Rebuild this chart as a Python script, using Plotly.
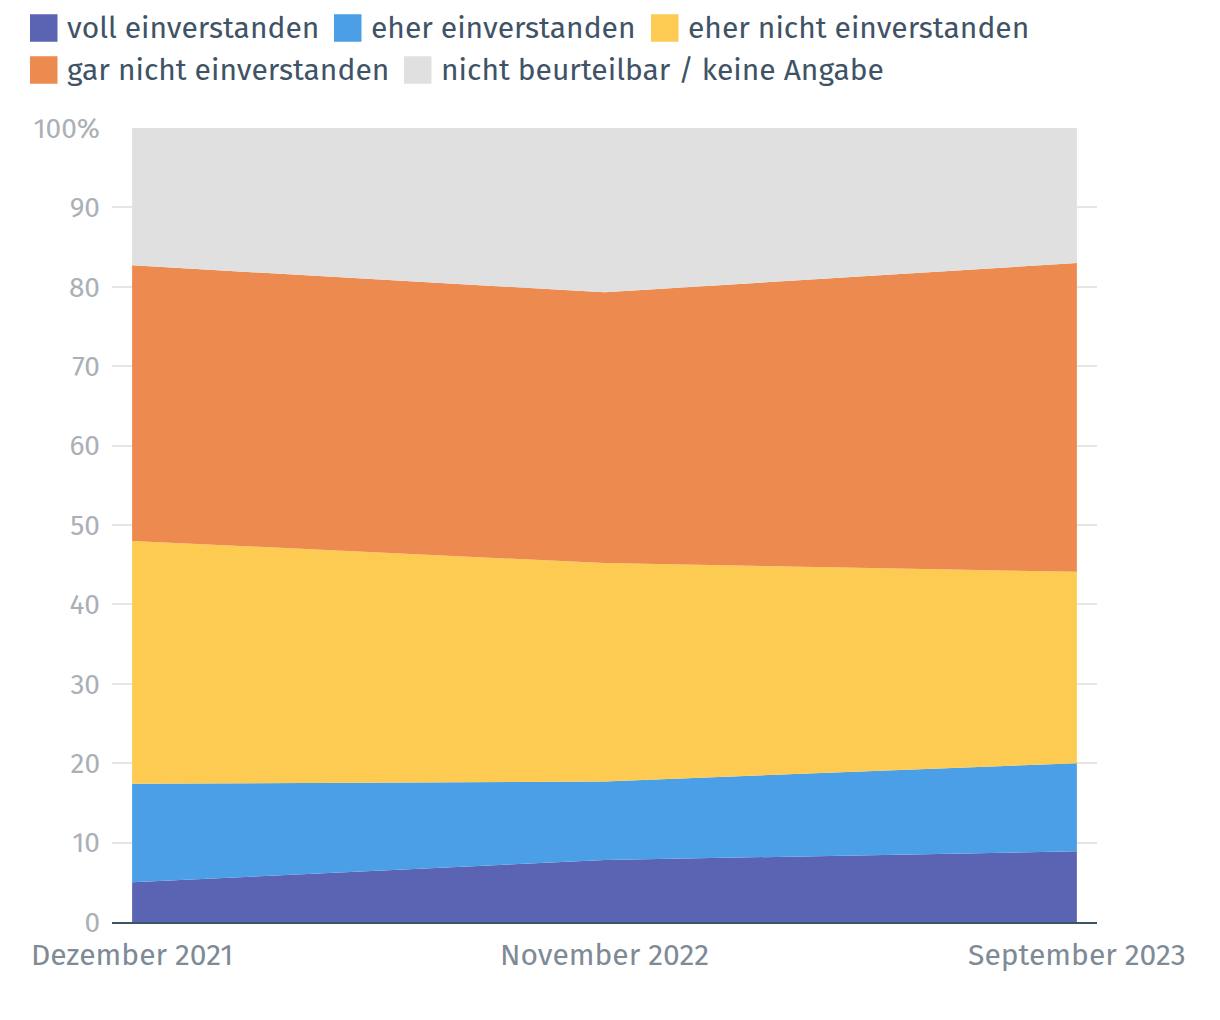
import plotly.graph_objects as go

categories = ["Dezember 2021", "November 2022", "September 2023"]
series_names = ["voll einverstanden", "eher einverstanden", "eher nicht einverstanden",
                "gar nicht einverstanden", "nicht beurteilbar / keine Angabe"]
voll = [5.0, 7.8, 8.9]
eher = [12.4, 9.9, 11.1]
eher_nicht = [30.6, 27.5, 24.1]
gar_nicht = [34.7, 34.1, 38.9]
keine_angabe = [17.3, 20.7, 17.0]
colors = ["#5a64b3", "#4a9fe6", "#fdcb52", "#ed8a4f", "#e0e0e0"]
y_ticks = [0, 10, 20, 30, 40, 50, 60, 70, 80, 90, 100]
y_ticktext = ["0", "10", "20", "30", "40", "50", "60", "70", "80", "90", "100%"]

FONT = "Fira Sans, Lato, sans-serif"
OFF = 8  # page body margin
W, H = 1220 - OFF, 1020 - OFF
L, R, T, B = 112 - OFF, 1097 - OFF, 128 - OFF, 922 - OFF

fig = go.Figure()
for name, vals, col in zip(series_names, [voll, eher, eher_nicht, gar_nicht, keine_angabe], colors):
    fig.add_trace(go.Scatter(
        x=categories, y=vals, name=name, stackgroup="one", mode="lines",
        line=dict(width=0, color=col), fillcolor=col, showlegend=False,
        hovertemplate="%{x}: %{y}<extra>" + name + "</extra>"))

# manual legend (page px positions)
legend_items = [
    (30, 28), (334, 28), (651, 28),
    (30, 70), (404, 70),
]
def px_x(p):
    return (p - OFF - L) / (R - L)
def px_y(p):
    return (B - (p - OFF)) / (B - T)

shapes = []
annotations = []
sw = 27.5
for (x0, yc), name, col in zip(legend_items, series_names, colors):
    shapes.append(dict(type="rect", xref="paper", yref="paper",
                       x0=px_x(x0), x1=px_x(x0 + sw), y0=px_y(yc + sw / 2), y1=px_y(yc - sw / 2),
                       fillcolor=col, line=dict(width=0)))
    annotations.append(dict(text=name, xref="paper", yref="paper", x=px_x(x0 + sw + 7), y=px_y(yc),
                            xanchor="left", yanchor="middle", showarrow=False,
                            font=dict(family=FONT, size=30, color="#3f5366")))

fig.update_layout(
    width=W, height=H,
    margin=dict(l=L, r=W - R, t=T, b=H - B),
    paper_bgcolor="white", plot_bgcolor="white",
    shapes=shapes, annotations=annotations,
    showlegend=False,
    xaxis=dict(type="category", range=[-0.0426, 2.0426], showgrid=False,
               showline=True, linecolor="#3d5366", linewidth=2,
               tickfont=dict(family=FONT, size=30, color="#7e8a95"),
               ticks="", ticklabelstandoff=5, zeroline=False),
    yaxis=dict(range=[0, 100], tickvals=y_ticks, ticktext=y_ticktext,
               showgrid=True, gridcolor="#e6e6e6", gridwidth=2, zeroline=False,
               tickfont=dict(family=FONT, size=28, color="#aab0b6"),
               ticks="", ticklabelstandoff=11, showline=False),
)

fig.write_html("out.html")
